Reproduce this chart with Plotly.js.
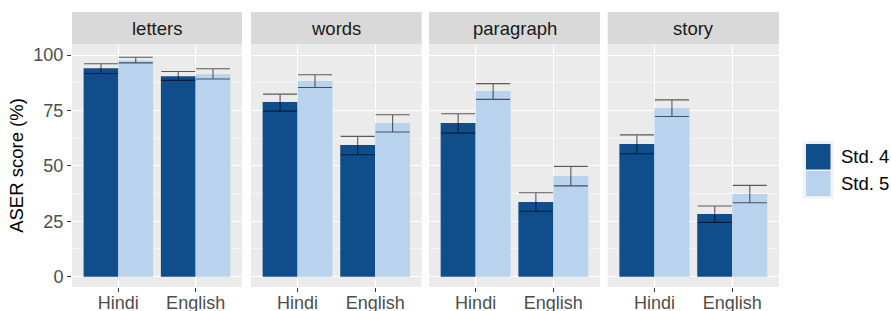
<!DOCTYPE html>
<html>
<head>
<meta charset="utf-8">
<script src="https://cdn.plot.ly/plotly-3.0.1.min.js"></script>
<style>html,body{margin:0;padding:0;background:#fff;}#chart{width:891px;height:311px;}</style>
</head>
<body>
<div id="chart"></div>
<script>
// ---- data ----
const panels = ['letters', 'words', 'paragraph', 'story'];
const languages = ['Hindi', 'English'];
const grades = ['Std. 4', 'Std. 5'];
const gradeColors = ['#104E8B', '#B9D3EE'];

// mean score per panel, [Hindi, English]
const std4Values = [[94.1, 90.5], [78.8, 59.4], [69.3, 33.7], [59.9, 28.3]];
const std5Values = [[97.6, 91.4], [88.3, 69.3], [83.8, 45.4], [76.1, 37.3]];
// error bar limits
const std4Upper = [[96.1, 92.6], [82.4, 63.3], [73.5, 37.9], [64.0, 31.9]];
const std4Lower = [[91.7, 88.6], [74.7, 55.0], [64.8, 29.5], [55.5, 24.5]];
const std5Upper = [[99.0, 93.8], [91.1, 73.1], [87.1, 49.8], [79.8, 41.2]];
const std5Lower = [[96.5, 89.2], [85.4, 65.3], [80.0, 41.0], [72.3, 33.4]];

const yTicks = [0, 25, 50, 75, 100];
const yMinorTicks = [12.5, 37.5, 62.5, 87.5];

// ---- layout geometry (pixels) ----
const W = 891, H = 311;
const M = {l: 72, r: 112, t: 44, b: 24};
const plotW = W - M.l - M.r, plotH = H - M.t - M.b;
const panelPx = [[72, 242], [251, 421.7], [429, 600], [607.7, 779]];
const px2x = p => (p - M.l) / plotW;
const px2y = p => (H - M.b - p) / plotH;

const FONT = '"Liberation Sans", Arial, Helvetica, sans-serif';
const traces = [];
const layout = {
  width: W, height: H,
  margin: M,
  paper_bgcolor: '#FFFFFF',
  plot_bgcolor: '#EBEBEB',
  font: {family: FONT, color: '#4D4D4D'},
  barmode: 'group',
  bargap: 0.1,
  bargroupgap: 0,
  showlegend: false,
  shapes: [],
  annotations: []
};

const errColor = 'rgba(0,0,0,0.62)';
function makeErr(vals, up, lo) {
  return {
    type: 'data', symmetric: false,
    array: up.map((u, i) => u - vals[i]),
    arrayminus: lo.map((l, i) => vals[i] - l),
    color: errColor, thickness: 1.1, width: 17
  };
}

panels.forEach((name, k) => {
  const sfx = k === 0 ? '' : String(k + 1);
  const xa = 'x' + sfx, ya = 'y' + sfx;
  traces.push({
    type: 'bar', name: grades[0], x: languages, y: std4Values[k],
    xaxis: xa, yaxis: ya, marker: {color: gradeColors[0], line: {width: 0}},
    error_y: makeErr(std4Values[k], std4Upper[k], std4Lower[k]),
    hoverinfo: 'x+y+name'
  });
  traces.push({
    type: 'bar', name: grades[1], x: languages, y: std5Values[k],
    xaxis: xa, yaxis: ya, marker: {color: gradeColors[1], line: {width: 0}},
    error_y: makeErr(std5Values[k], std5Upper[k], std5Lower[k]),
    hoverinfo: 'x+y+name'
  });
  const dom = [px2x(panelPx[k][0]), px2x(panelPx[k][1])];
  layout['xaxis' + sfx] = {
    domain: dom, anchor: ya, type: 'category',
    categoryorder: 'array', categoryarray: languages,
    range: [-0.6, 1.6],
    showgrid: true, gridcolor: '#FFFFFF', gridwidth: 1.1,
    zeroline: false, showline: false,
    ticks: 'outside', ticklen: 4, tickwidth: 1.1, tickcolor: '#333333',
    ticklabelstandoff: -5,
    tickfont: {size: 18, color: '#4D4D4D', family: FONT},
    fixedrange: true
  };
  const yax = {
    domain: [0, 1], anchor: xa,
    range: [-4.65, 105],
    tickvals: yTicks, ticktext: yTicks.map(String),
    showgrid: true, gridcolor: '#FFFFFF', gridwidth: 1.1,
    minor: {tickvals: yMinorTicks, showgrid: true, gridcolor: '#FFFFFF', gridwidth: 0.55, ticks: ''},
    zeroline: false, showline: false,
    fixedrange: true
  };
  if (k === 0) {
    Object.assign(yax, {
      ticks: 'outside', ticklen: 4, tickwidth: 1.1, tickcolor: '#333333',
      tickfont: {size: 18, color: '#4D4D4D', family: FONT},
      title: {text: 'ASER score (%)', font: {size: 18.5, color: '#000000', family: FONT}, standoff: 4}
    });
  } else {
    Object.assign(yax, {matches: 'y', showticklabels: false, ticks: ''});
  }
  layout['yaxis' + sfx] = yax;

  // facet strip
  layout.shapes.push({
    type: 'rect', xref: 'paper', yref: 'paper', layer: 'below',
    x0: dom[0], x1: dom[1], y0: px2y(44), y1: px2y(12),
    fillcolor: '#D9D9D9', line: {width: 0}
  });
  layout.annotations.push({
    xref: 'paper', yref: 'paper', x: (dom[0] + dom[1]) / 2, y: px2y(28),
    text: name, showarrow: false, xanchor: 'center', yanchor: 'middle',
    font: {size: 18.5, color: '#1A1A1A', family: FONT}
  });
});

// legend drawn as keys + labels
layout.shapes.push({
  type: 'rect', xref: 'paper', yref: 'paper',
  x0: px2x(803), x1: px2x(833.5), y0: px2y(198.5), y1: px2y(141),
  fillcolor: '#F2F2F2', line: {width: 0}
});
const keyY = [[144, 169.5], [171, 196]];
const labelY = [156.5, 183.5];
grades.forEach((g, i) => {
  layout.shapes.push({
    type: 'rect', xref: 'paper', yref: 'paper',
    x0: px2x(806), x1: px2x(830.5), y0: px2y(keyY[i][1]), y1: px2y(keyY[i][0]),
    fillcolor: gradeColors[i], line: {width: 0}
  });
  layout.annotations.push({
    xref: 'paper', yref: 'paper', x: px2x(839), y: px2y(labelY[i]),
    text: g, showarrow: false, xanchor: 'left', yanchor: 'middle',
    font: {size: 18.5, color: '#000000', family: FONT}
  });
});

Plotly.newPlot('chart', traces, layout, {staticPlot: true, displayModeBar: false});
</script>
</body>
</html>
